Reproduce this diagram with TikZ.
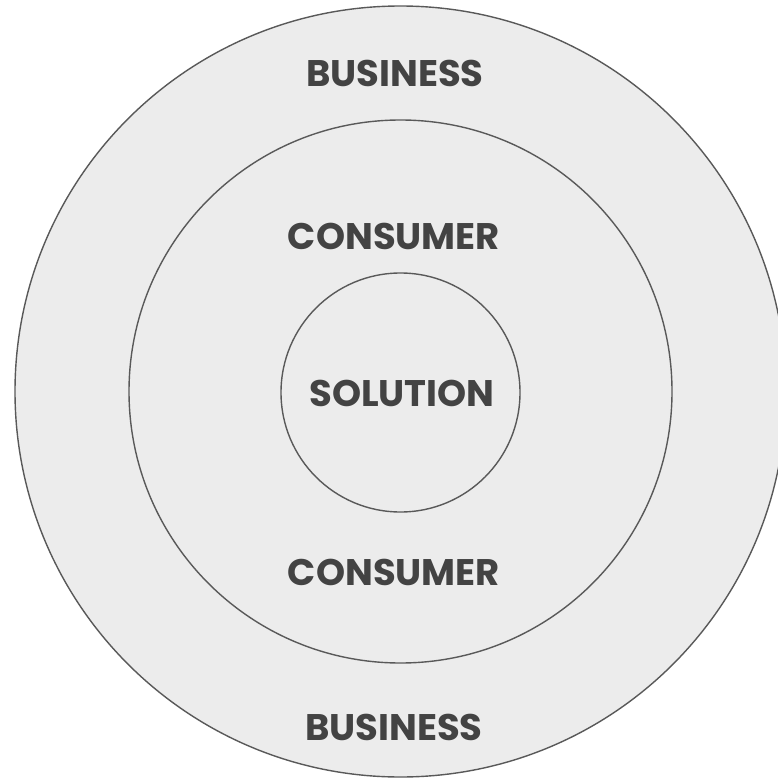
\documentclass[tikz,border=0pt]{standalone}
\usepackage{fontspec}
\setmainfont{Poppins}
\usepackage{xcolor}
\usepackage{tikz}
\usetikzlibrary{positioning}

\definecolor{ringfill}{HTML}{ECECEC}
\definecolor{ringline}{HTML}{595959}
\definecolor{labeltext}{HTML}{434343}

\begin{document}
\begin{tikzpicture}[x=1pt,y=-1pt]
	\tikzstyle{ring}=[circle,draw=ringline,fill=ringfill,line width=1.4pt,inner sep=0pt]
	\tikzstyle{label}=[text=labeltext,font=\fontsize{37}{40}\selectfont\bfseries,inner sep=0pt]
	\useasboundingbox (0,0) rectangle (778,778);
	\clip (0,0) rectangle (778,778);
	\node[ring,minimum size=771pt](outer) at (400.5,391.5){};
	\node[ring,minimum size=543pt](middle) at (400.5,391.5){};
	\node[ring,minimum size=239pt](inner) at (400.5,392.5){};
	\node[label](busTop) at (395,73.5){BUSINESS};
	\node[label](conTop) at (394,236){CONSUMER};
	\node[label](sol) at (402,393.5){SOLUTION};
	\node[label](conBot) at (394,572){CONSUMER};
	\node[label](busBot) at (394,727){BUSINESS};
\end{tikzpicture}
\end{document}
